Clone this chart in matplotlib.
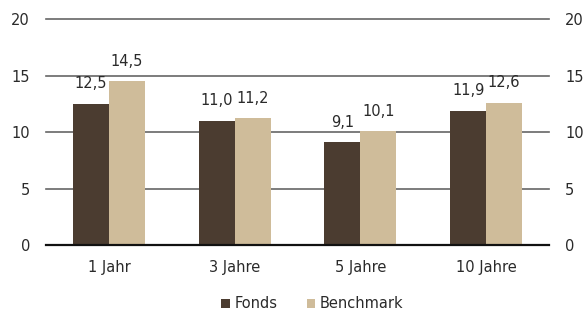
import matplotlib
matplotlib.use("Agg")
import matplotlib.pyplot as plt
import numpy as np

categories = ["1 Jahr", "3 Jahre", "5 Jahre", "10 Jahre"]
fonds = [12.5, 11.0, 9.1, 11.9]
benchmark = [14.5, 11.2, 10.1, 12.6]
fonds_labels = ["12,5", "11,0", "9,1", "11,9"]
bench_labels = ["14,5", "11,2", "10,1", "12,6"]
yticks = [0, 5, 10, 15, 20]

c_fonds = "#4b3c30"
c_bench = "#cfbc9a"
txt = "#2a2a2a"
fs = 10.5

plt.rcParams['font.family'] = ['DejaVu Sans']
fig = plt.figure(figsize=(5.87, 3.14), dpi=100)
ax = fig.add_axes([46/587, 1-245/314, (549-46)/587, (245-19)/314])

x = np.arange(len(categories))
w = 0.286
b1 = ax.bar(x - w/2, fonds, w, color=c_fonds, label="Fonds", zorder=3)
b2 = ax.bar(x + w/2, benchmark, w, color=c_bench, label="Benchmark", zorder=3)

for i in range(len(categories)):
    ax.annotate(fonds_labels[i], (x[i] - w/2, fonds[i]), xytext=(0, 11),
                textcoords="offset points", ha="center", va="baseline",
                fontsize=fs, color=txt, zorder=4)
    ax.annotate(bench_labels[i], (x[i] + w/2, benchmark[i]), xytext=(0, 11),
                textcoords="offset points", ha="center", va="baseline",
                fontsize=fs, color=txt, zorder=4)

ax.set_xlim(-0.5, len(categories) - 0.5)
ax.set_ylim(0, 20)
ax.set_yticks(yticks)
ax.set_yticklabels([str(t) for t in yticks], fontsize=fs, color=txt)
ax.tick_params(axis="y", length=0, pad=11.5, labelright=True, right=False)
ax.set_xticks(x)
ax.set_xticklabels(categories, fontsize=fs, color=txt)
ax.tick_params(axis="x", length=0, pad=11)
for t in yticks[1:]:
    ax.axhline(t, color="#666666", lw=1.2, zorder=1, clip_on=False)
ax.axhline(0, color="#111111", lw=1.6, zorder=4, clip_on=False)
for s in ax.spines.values():
    s.set_visible(False)

leg = fig.legend(handles=[b1, b2], labels=["Fonds", "Benchmark"], loc="center",
                 bbox_to_anchor=(0.532, 1-304/314), ncol=2, frameon=False, fontsize=fs,
                 handlelength=0.6, handleheight=0.6, handletextpad=0.3, columnspacing=2.0,
                 labelcolor=txt)

fig.savefig("out.png", dpi=100)
